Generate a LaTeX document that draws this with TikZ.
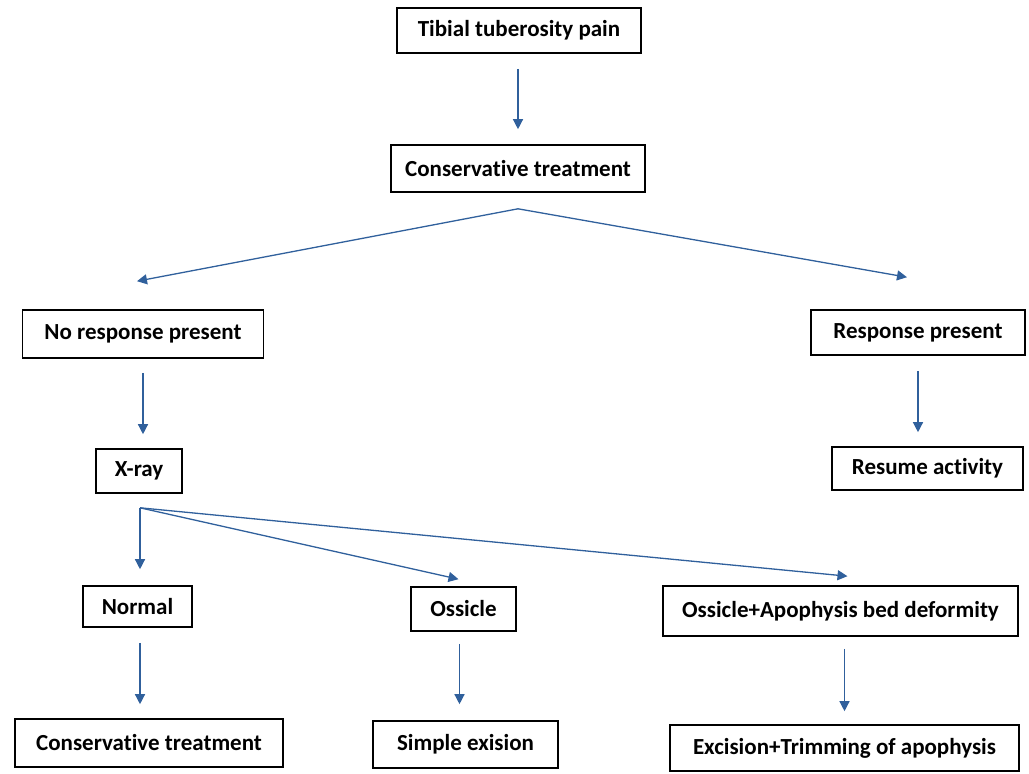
\documentclass[tikz,border=0pt]{standalone}
\usepackage{fontspec}
\setmainfont{Carlito}[Ligatures=NoCommon]
\usetikzlibrary{arrows.meta}
\definecolor{flowblue}{RGB}{48,96,156}

\begin{document}
\begin{tikzpicture}[
  x=1pt, y=-1pt,
  block/.style={rectangle, draw, line width=1.6pt, inner sep=0pt, font=\fontsize{23}{27}\selectfont\bfseries, align=center},
  link/.style={->, draw=flowblue, line width=1.3pt},
  >={Triangle[length=10pt,width=10pt]}
]
\useasboundingbox (0,0) rectangle (1029,774);

% Start
\node[block, minimum width=244pt, minimum height=45pt] (tibial) at (519,30.5) {Tibial tuberosity pain};
\node[block, minimum width=254pt, minimum height=47pt] (cons) at (518,168.5) {Conservative treatment};

% Response
\node[block, minimum width=241pt, minimum height=48pt] (noresp) at (143,334) {No response present};
\node[block, minimum width=86pt, minimum height=44pt] (xray) at (139,471) {X-ray};
\node[block, minimum width=214pt, minimum height=45pt] (resp) at (918,332.5) {Response present};
\node[block, minimum width=191pt, minimum height=43pt] (resume) at (927.5,468.5) {Resume activity};

% X-ray findings
\node[block, minimum width=109pt, minimum height=41pt] (normal) at (137.5,606.5) {Normal};
\node[block, minimum width=105pt, minimum height=44pt] (ossicle) at (463.5,609) {Ossicle};
\node[block, minimum width=355pt, minimum height=50pt] (oab) at (840.5,611) {Ossicle+Apophysis bed deformity};

% Treatment
\node[block, minimum width=268pt, minimum height=48pt] (cons2) at (149,743) {Conservative treatment};
\node[block, minimum width=185pt, minimum height=47pt] (simple) at (465.5,744.5) {Simple exision};
\node[block, minimum width=349pt, minimum height=46pt] (exc) at (844.5,748) {Excision+Trimming of apophysis};

% Split points
\coordinate (split) at ([yshift=-16pt]cons.south);
\coordinate (xsplit) at ([xshift=1pt,yshift=-14pt]xray.south);

% Connections
\draw[link, shorten <=15pt, shorten >=15pt] (tibial.south -| cons.north) -- (cons.north);
\draw[link] (split) -- ([xshift=-6pt,yshift=28pt]noresp.north);
\draw[link] (split) -- ([xshift=-11pt,yshift=32pt]resp.north);
\draw[link, shorten <=14pt, shorten >=14pt] (noresp.south) -- (noresp.south |- xray.north);
\draw[link, shorten <=15pt, shorten >=14pt] (resp.south) -- (resp.south |- resume.north);
\draw[link, shorten >=16pt] (xsplit) -- (xsplit |- normal.north);
\draw[link] (xsplit) -- ([xshift=-5pt,yshift=7pt]ossicle.north);
\draw[link] (xsplit) -- ([xshift=7pt,yshift=9pt]oab.north);
\draw[link, shorten <=15pt, shorten >=14pt] (normal.south -| xsplit) -- (cons2.north -| xsplit);
\draw[link, shorten <=12pt, shorten >=16pt] ([xshift=-4pt]ossicle.south) -- ([xshift=-4pt]ossicle.south |- simple.north);
\draw[link, shorten <=12pt, shorten >=13pt] (oab.south -| exc.north) -- (exc.north);
\end{tikzpicture}
\end{document}
